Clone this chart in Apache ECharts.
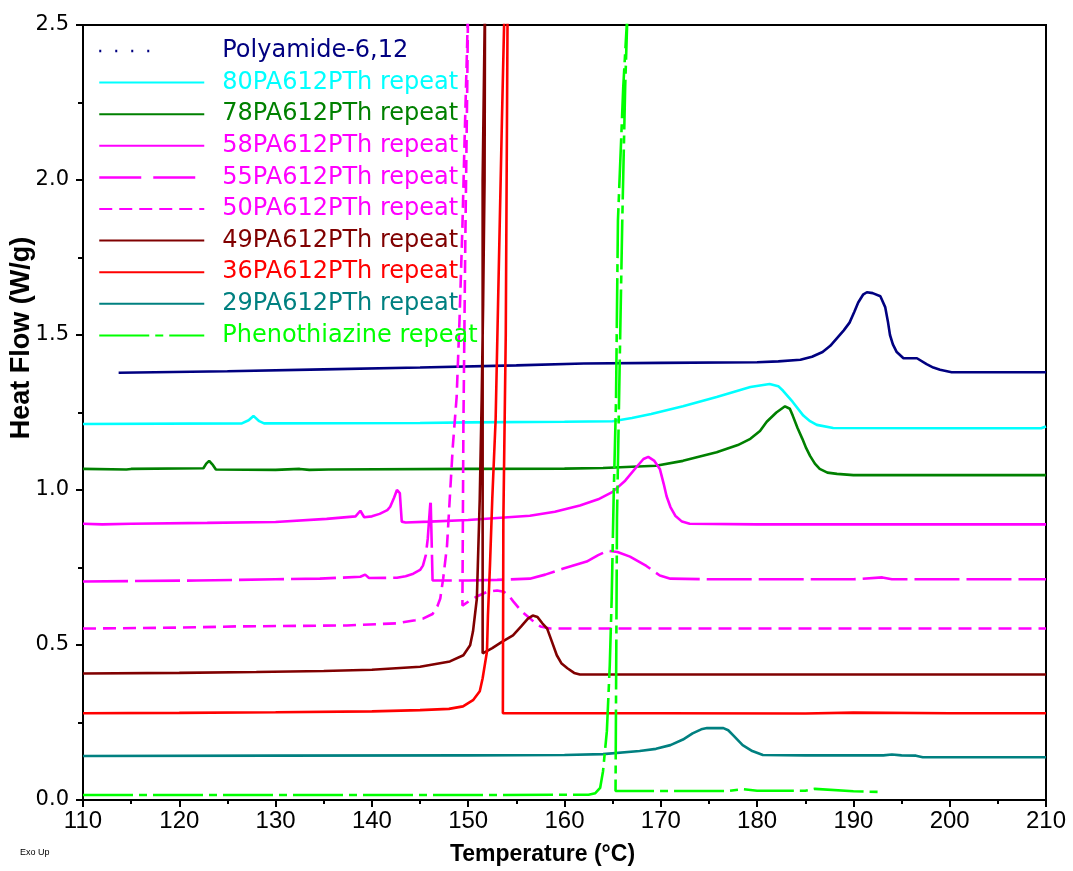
<!DOCTYPE html>
<html>
<head>
<meta charset="utf-8">
<script src="https://cdn.jsdelivr.net/npm/echarts@6/dist/echarts.min.js"></script>
<style>html,body{margin:0;padding:0;background:#fff;}#c{width:1073px;height:871px;}</style>
</head>
<body>
<div id="c"></div>
<script>
// ---- data (Temperature °C, Heat Flow W/g) ----
const xTicks = [110, 120, 130, 140, 150, 160, 170, 180, 190, 200, 210];
const yTicks = [0.0, 0.5, 1.0, 1.5, 2.0, 2.5];

const seriesNames = [
  'Polyamide-6,12', '80PA612PTh repeat', '78PA612PTh repeat', '58PA612PTh repeat',
  '55PA612PTh repeat', '50PA612PTh repeat', '49PA612PTh repeat', '36PA612PTh repeat',
  '29PA612PTh repeat', 'Phenothiazine repeat'
];

const pa612 = [[113.7,1.378],[125,1.383],[135,1.389],[145,1.395],[155,1.402],[162,1.408],[170,1.41],[180,1.412],[182.2,1.415],[184.5,1.42],[185.7,1.43],[186.8,1.445],[187.6,1.465],[188.3,1.49],[189,1.515],[189.6,1.54],[190.1,1.575],[190.5,1.605],[191,1.63],[191.4,1.638],[192,1.635],[192.8,1.625],[193.3,1.59],[193.6,1.54],[193.8,1.50],[194.1,1.47],[194.5,1.445],[195.2,1.425],[196.6,1.425],[197.6,1.406],[198.3,1.395],[199,1.388],[200.2,1.38],[205,1.38],[210,1.38]];

const pth80 = [[110,1.213],[126.5,1.215],[127.2,1.225],[127.7,1.239],[128.3,1.222],[128.8,1.215],[145,1.216],[150,1.218],[160,1.22],[165,1.222],[167,1.232],[169,1.245],[172.3,1.27],[175.8,1.30],[179.3,1.332],[181.3,1.342],[182.2,1.335],[182.7,1.32],[183.7,1.284],[184.8,1.24],[185.5,1.222],[186.2,1.21],[187.9,1.20],[200,1.199],[209.5,1.199],[210,1.205]];

const pth78 = [[110,1.068],[114.5,1.066],[115,1.068],[122.5,1.07],[122.8,1.085],[123.1,1.094],[123.5,1.08],[123.8,1.066],[130,1.065],[132.5,1.068],[133.5,1.065],[135.5,1.066],[150,1.068],[160,1.069],[164,1.071],[167,1.075],[169.5,1.078],[172.3,1.094],[175.8,1.122],[178,1.145],[179.3,1.165],[180.3,1.19],[181,1.22],[182,1.25],[182.9,1.27],[183.4,1.262],[183.7,1.24],[184.2,1.2],[184.7,1.165],[185.1,1.135],[185.5,1.11],[186,1.085],[186.5,1.068],[187.3,1.056],[188.3,1.052],[190,1.048],[210,1.048]];

const pth58 = [[110,0.891],[112,0.889],[115,0.891],[122.9,0.894],[130,0.897],[135.3,0.907],[138.3,0.915],[138.8,0.933],[139.2,0.912],[140,0.915],[140.8,0.923],[141.6,0.935],[141.9,0.946],[142.3,0.975],[142.6,1.0],[142.9,0.99],[143.1,0.898],[143.5,0.895],[146,0.898],[150,0.903],[156.4,0.917],[159,0.93],[161.6,0.95],[163.5,0.97],[165,0.994],[166.3,1.03],[167.5,1.075],[168.2,1.1],[168.7,1.107],[169.3,1.095],[169.9,1.068],[170.3,1.02],[170.6,0.98],[171.0,0.945],[171.5,0.917],[172.2,0.898],[173,0.891],[180,0.889],[210,0.889]];

const pth55 = [[110,0.705],[121.8,0.708],[130,0.712],[134.6,0.714],[138.8,0.72],[139.3,0.727],[139.7,0.716],[142.6,0.717],[143.5,0.722],[144.3,0.73],[145,0.742],[145.3,0.756],[145.6,0.79],[145.8,0.843],[146.0,0.93],[146.1,0.97],[146.2,0.84],[146.3,0.708],[150,0.708],[153,0.71],[156.4,0.714],[158,0.727],[159.8,0.746],[162.3,0.769],[163.5,0.79],[164.5,0.804],[165.5,0.80],[166.8,0.785],[168.5,0.755],[169.9,0.724],[171,0.714],[175,0.712],[190,0.712],[193,0.718],[194,0.712],[210,0.712]];

const pth50 = [[110,0.553],[120,0.556],[126,0.56],[137.4,0.563],[142.6,0.57],[144.5,0.58],[145.3,0.585],[146.3,0.60],[146.8,0.625],[147.1,0.65],[147.4,0.714],[147.8,0.82],[148.1,0.98],[148.4,1.14],[148.8,1.30],[149.1,1.55],[149.4,1.85],[149.6,2.1],[149.9,2.45],[150.0,2.6],[149.9,2.3],[149.7,1.8],[149.5,1.2],[149.4,0.627],[150.2,0.644],[151,0.658],[152,0.672],[153,0.676],[153.7,0.672],[154.2,0.66],[154.7,0.64],[155.5,0.61],[156.4,0.586],[157,0.57],[157.5,0.56],[158.5,0.553],[210,0.553]];

const pth49 = [[110,0.408],[120,0.41],[128,0.413],[135,0.416],[140,0.42],[145,0.43],[148.1,0.447],[149.5,0.467],[150.2,0.499],[150.5,0.544],[150.9,0.65],[151.0,0.756],[151.2,0.972],[151.4,1.293],[151.55,1.6],[151.7,2.0],[151.75,2.6],[151.55,2.6],[151.5,2.0],[151.5,0.473],[152.5,0.49],[153.5,0.51],[154.65,0.531],[155.5,0.56],[156.2,0.585],[156.7,0.595],[157.2,0.59],[157.7,0.57],[158.2,0.553],[158.7,0.51],[159.2,0.467],[159.7,0.44],[160.3,0.425],[161,0.41],[161.6,0.405],[210,0.405]];

const pth36 = [[110,0.28],[120,0.281],[130,0.283],[140,0.286],[145,0.29],[148,0.294],[149.46,0.302],[150.5,0.322],[151.2,0.351],[151.5,0.393],[151.95,0.479],[152.05,0.595],[152.26,0.756],[152.5,0.972],[152.85,1.229],[153.1,1.6],[153.5,2.19],[153.8,2.6],[154.1,2.6],[153.9,1.5],[153.65,0.9],[153.6,0.28],[160,0.28],[170,0.28],[185,0.279],[190,0.282],[200,0.28],[210,0.28]];

const pth29 = [[110,0.142],[130,0.143],[150,0.144],[160,0.145],[164,0.148],[167.8,0.158],[169.5,0.165],[171,0.177],[172.3,0.195],[173.3,0.215],[174.2,0.228],[174.8,0.232],[176.5,0.232],[177,0.225],[177.5,0.209],[178.5,0.177],[179.5,0.158],[180.6,0.145],[185,0.144],[193.1,0.144],[194,0.147],[195,0.144],[196.5,0.143],[197.2,0.138],[210,0.138]];

const phenothiazine = [[110,0.016],[130,0.016],[150,0.016],[162.5,0.017],[163.2,0.022],[163.7,0.039],[164.0,0.093],[164.4,0.222],[164.7,0.434],[164.9,0.65],[165.1,0.97],[165.35,1.29],[165.55,1.87],[166.1,2.30],[166.5,2.52],[166.6,2.6],[166.7,2.6],[166.3,2.30],[166.0,1.87],[165.75,1.44],[165.45,0.91],[165.3,0.029],[170,0.029],[177,0.029],[178.5,0.035],[180,0.03],[185,0.03],[186,0.036],[190,0.028],[192.8,0.026]];

// ---- styles ----
const allData = [pa612, pth80, pth78, pth58, pth55, pth50, pth49, pth36, pth29, phenothiazine];
const colors = ['#000080','#00FFFF','#008000','#FF00FF','#FF00FF','#FF00FF','#800000','#FF0000','#008080','#00FF00'];
const dashes = ['solid','solid','solid','solid',[45,7],[13,7],'solid','solid','solid',[50,6,8,6]];

const chart = echarts.init(document.getElementById('c'), null, {renderer: 'canvas'});

const series = seriesNames.map((n, i) => ({
  name: n,
  type: 'line',
  data: allData[i],
  symbol: 'none',
  showSymbol: false,
  clip: true,
  animation: false,
  lineStyle: {color: colors[i], width: 2.6, type: dashes[i]},
  itemStyle: {color: colors[i]},
  z: 2
}));

const legendData = seriesNames.map((n, i) => {
  const d = {name: n, textStyle: {color: colors[i]}, itemStyle: {opacity: 0}};
  if (i === 0) d.lineStyle = {type: [2, 14, 2, 14, 2, 14, 2, 80], width: 2.5, color: colors[0]};
  if (i === 4) d.lineStyle = {type: [42, 12], width: 2.5, color: colors[4]};
  return d;
});

chart.setOption({
  backgroundColor: '#ffffff',
  animation: false,
  grid: {left: 83, right: 27, top: 25, bottom: 69, show: true, borderColor: '#000', borderWidth: 2, backgroundColor: 'transparent'},
  legend: {
    orient: 'vertical',
    left: 93,
    top: 34,
    itemWidth: 105,
    itemHeight: 24,
    itemGap: 7.6,
    selectedMode: false,
    itemStyle: {opacity: 0},
    data: legendData,
    textStyle: {fontFamily: 'DejaVu Sans', fontSize: 24, lineHeight: 24, padding: [0, 0, 0, 13]}
  },
  xAxis: {
    type: 'value',
    min: xTicks[0],
    max: xTicks[xTicks.length - 1],
    interval: 10,
    axisLine: {show: true, onZero: false, lineStyle: {color: '#000', width: 2}},
    axisTick: {show: true, inside: false, length: 7, lineStyle: {color: '#000', width: 2}},
    minorTick: {show: true, splitNumber: 2, length: 4, lineStyle: {color: '#000', width: 2}},
    splitLine: {show: false},
    axisLabel: {color: '#000', fontFamily: "'Liberation Sans', Arial, sans-serif", fontSize: 24, margin: 9},
    name: 'Temperature (°C)',
    nameLocation: 'middle',
    nameGap: 43,
    nameTextStyle: {color: '#000', fontFamily: 'Liberation Sans', fontWeight: 'bold', fontSize: 23, padding: [0, 44, 0, 0]}
  },
  yAxis: {
    type: 'value',
    min: yTicks[0],
    max: yTicks[yTicks.length - 1],
    interval: 0.5,
    axisLine: {show: true, onZero: false, lineStyle: {color: '#000', width: 2}},
    axisTick: {show: true, inside: false, length: 7, lineStyle: {color: '#000', width: 2}},
    minorTick: {show: true, splitNumber: 2, length: 5, lineStyle: {color: '#000', width: 2}},
    splitLine: {show: false},
    axisLabel: {color: '#000', fontFamily: 'DejaVu Sans', fontSize: 21, margin: 14, formatter: v => v.toFixed(1)}
  },
  graphic: [
    {type: 'text', x: 22, y: 338, rotation: Math.PI / 2, z: 10,
     style: {text: 'Heat Flow (W/g)', fill: '#000', font: "bold 27px 'Liberation Sans'", align: 'center', verticalAlign: 'middle'}},
    {type: 'text', x: 20, y: 853, z: 10,
     style: {text: 'Exo Up', fill: '#000', font: "9px 'Liberation Sans'", align: 'left', verticalAlign: 'middle'}}
  ],
  series: series
});
</script>
</body>
</html>
